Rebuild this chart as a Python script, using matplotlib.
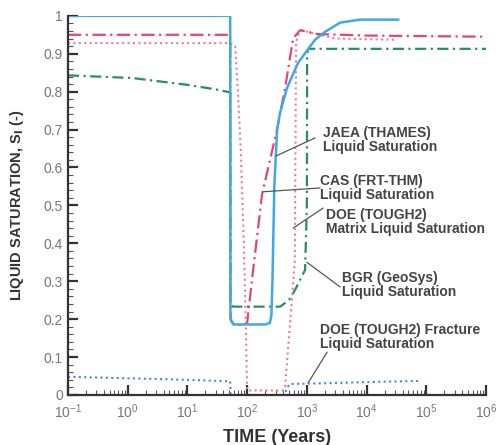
import numpy as np
from matplotlib import pyplot as plt
from matplotlib.ticker import MultipleLocator, LogLocator, FixedLocator, FuncFormatter

plt.rcParams['font.family'] = ['Liberation Sans', 'DejaVu Sans']

# JAEA (THAMES) liquid saturation
jaea_t = [0.1, 52, 52.5, 54, 60, 200, 240, 255, 265, 285, 317, 356, 466, 712, 1371, 2020, 3600, 7780, 33700]
jaea_s = [1.0, 1.0, 0.22, 0.195, 0.186, 0.186, 0.19, 0.21, 0.3, 0.55, 0.70, 0.745, 0.81, 0.876, 0.937, 0.958, 0.982, 0.99, 0.99]

# CAS (FRT-THM) liquid saturation
cas_t = [0.1, 52, 52.5, 60, 90, 100, 126, 178, 250, 317, 432, 587, 770, 1500, 1e4, 1e6]
cas_s = [0.95, 0.95, 0.2, 0.185, 0.185, 0.19, 0.33, 0.53, 0.63, 0.70, 0.81, 0.94, 0.962, 0.952, 0.948, 0.945]

# DOE (TOUGH2) matrix liquid saturation
doem_t = [0.1, 52, 56, 63, 70, 78, 88, 96, 100, 400, 430, 530, 630, 640, 660, 720, 830, 1200, 3000, 30000]
doem_s = [0.928, 0.928, 0.925, 0.92, 0.8, 0.65, 0.4, 0.15, 0.012, 0.012, 0.02, 0.2, 0.356, 0.6, 0.93, 0.95, 0.962, 0.955, 0.94, 0.937]

# BGR (GeoSys) liquid saturation
bgr_t = [0.1, 1.2, 10, 30, 52, 52.5, 60, 356, 500, 634, 933, 1000, 1010, 1050, 1e4, 1e6]
bgr_s = [0.843, 0.836, 0.818, 0.806, 0.798, 0.235, 0.233, 0.233, 0.25, 0.277, 0.33, 0.5, 0.9, 0.913, 0.913, 0.913]

# DOE (TOUGH2) fracture liquid saturation
doef_t = [0.1, 1, 10, 52, 53, 420, 470, 520, 2000, 1e4, 73000]
doef_s = [0.048, 0.044, 0.04, 0.036, 0.0, 0.0, 0.02, 0.029, 0.031, 0.034, 0.037]

fig = plt.figure(figsize=(4.96, 4.45), dpi=100)
ax = fig.add_axes([0.137, 0.1124, 0.843, 0.852])

ax.plot(bgr_t, bgr_s, color='#2a8a6a', lw=1.6, ls=(0, (5, 2, 1, 2)))
ax.plot(doem_t, doem_s, color='#ec7aa6', lw=1.5, ls=(0, (1, 1.6)))
ax.plot(doef_t, doef_s, color='#4f86d0', lw=1.5, ls=(0, (1, 1.6)))
ax.plot(cas_t, cas_s, color='#e2447c', lw=1.6, ls=(0, (6, 2, 1, 2)))
ax.plot(jaea_t, jaea_s, color='#3fa8e6', lw=1.8)

ax.set_xscale('log')
ax.set_xlim(0.1, 1e6)
ax.set_ylim(0, 1)

ax.spines['top'].set_visible(False)
ax.spines['right'].set_visible(False)
for s in ['left', 'bottom']:
    ax.spines[s].set_linewidth(1.6)
    ax.spines[s].set_color('#333333')

ax.yaxis.set_major_locator(MultipleLocator(0.1))
ax.yaxis.set_minor_locator(MultipleLocator(0.02))
ax.yaxis.set_major_formatter(FuncFormatter(lambda v, p: '%g' % round(v, 1)))
ax.xaxis.set_major_locator(FixedLocator([10.0**k for k in range(-1, 7)]))
ax.xaxis.set_minor_locator(LogLocator(base=10, subs=np.arange(2, 10), numticks=20))
ax.tick_params(which='major', direction='in', length=7, width=1.6, color='#333333',
               labelsize=10, labelcolor='#777777')
ax.tick_params(axis='x', which='major', pad=5)
ax.tick_params(which='minor', direction='in', length=3.5, width=0.8, color='#555555')

ax.set_xlabel('TIME (Years)', fontsize=13, fontweight='bold', color='#333333', labelpad=6)
ax.set_ylabel(r'LIQUID SATURATION, S$_\mathbf{l}$ (-)', fontsize=10.5, fontweight='bold',
              color='#333333')
ax.yaxis.set_label_coords(-0.1, 0.5)

labels = [
    ('JAEA (THAMES)\nLiquid Saturation', (1868, 0.672), (1371, 0.678), (300, 0.63)),
    ('CAS (FRT-THM)\nLiquid Saturation', (1663, 0.546), (1663, 0.546), (185, 0.536)),
    ('DOE (TOUGH2)\nMatrix Liquid Saturation', (2100, 0.456), (1868, 0.493), (587, 0.44)),
    ('BGR (GeoSys)\nLiquid Saturation', (3890, 0.29), (3600, 0.285), (1000, 0.35)),
    ('DOE (TOUGH2) Fracture\nLiquid Saturation', (1663, 0.153), (2180, 0.113), (1050, 0.032)),
]
for txt, pos, start, end in labels:
    ax.text(pos[0], pos[1], txt, fontsize=10, fontweight='bold', color='#444444',
            ha='left', va='center', linespacing=1.0)
    ax.annotate('', xy=end, xytext=start,
                arrowprops=dict(arrowstyle='-', color='#555555', lw=0.9, shrinkA=0, shrinkB=0))

fig.savefig('out.png', dpi=100)
